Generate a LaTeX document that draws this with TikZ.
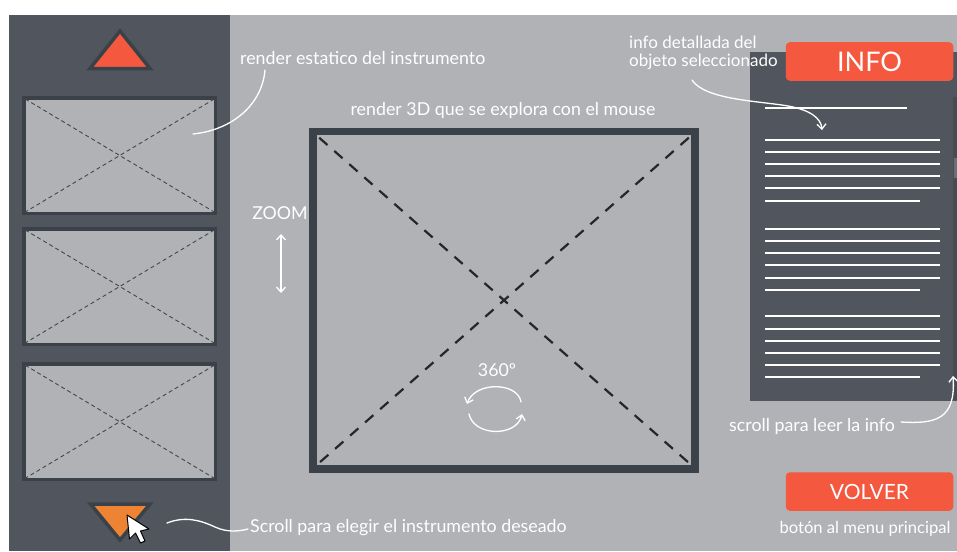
\documentclass[tikz,border=0pt]{standalone}
\usepackage{fontspec}
\setmainfont{Lato}
\usetikzlibrary{arrows.meta}
\definecolor{panel}{HTML}{51565E}
\definecolor{bg}{HTML}{B1B2B5}
\definecolor{frame}{HTML}{3B4148}
\definecolor{btnred}{HTML}{F4583E}
\definecolor{btnorange}{HTML}{EE8433}
\definecolor{thumbdash}{HTML}{42474E}
\definecolor{scrollbar}{HTML}{474C53}
\definecolor{scrollthumb}{HTML}{6B7078}
\begin{document}
\begin{tikzpicture}[x=1pt,y=-1pt,
  note/.style={text=white, font=\fontsize{17.8}{18}\selectfont, inner sep=0pt},
  noteline/.style={white, line width=1.3pt, line cap=round},
  tip/.style={-{Straight Barb[length=5pt,width=9pt]}},
  thumb/.style={draw=frame, fill=bg, line width=3.5pt, inner sep=0pt},
  thumbx/.style={thumbdash, line width=0.9pt, dash pattern=on 4pt off 3pt},
  bigx/.style={black!85, line width=2.2pt, dash pattern=on 11pt off 9pt},
  textline/.style={white, line width=2pt},
  btn/.style={fill=btnred, rounded corners=4pt, text=white, inner sep=0pt},
  tri/.style={draw=frame, line width=3.5pt, line join=miter}
]
\useasboundingbox (0,0) rectangle (957,551);
% backgrounds
\fill[white] (0,0) rectangle (957,551);
\fill[bg] (9,15) rectangle (957,551);
\fill[panel] (9,15) rectangle (230,551);

% up triangle
\draw[tri, fill=btnred] (120,31) -- (150,68.5) -- (90,68.5) -- cycle;
% thumbnails
\node[thumb, minimum width=191.5pt, minimum height=115.5pt] (t1) at (119.75,155.5) {};
\node[thumb, minimum width=191.5pt, minimum height=115.5pt] (t2) at (119.75,286.5) {};
\node[thumb, minimum width=191.5pt, minimum height=115.5pt] (t3) at (119.75,421.75) {};
\foreach \t in {t1,t2,t3}{
  \draw[thumbx] ([shift={(3,3)}]\t.north west) -- ([shift={(-3,-3)}]\t.south east);
  \draw[thumbx] ([shift={(-3,3)}]\t.north east) -- ([shift={(3,-3)}]\t.south west);
}
% down triangle + cursor
\draw[tri, fill=btnorange] (90.5,504) -- (150,504) -- (120,540) -- cycle;
\draw[black, fill=white, line width=1pt, line join=round]
  (127,515) -- (129.5,539) -- (135.5,533) -- (140.5,543) -- (145,541) -- (140.5,531) -- (149,529) -- cycle;

% main render box
\node[draw=frame, fill=bg, line width=7.5pt, minimum width=382pt, minimum height=337.5pt, inner sep=0pt] (main) at (504,300.25) {};
\draw[bigx] ([shift={(10,10)}]main.north west) -- ([shift={(-10,-10)}]main.south east);
\draw[bigx] ([shift={(-10,10)}]main.north east) -- ([shift={(10,-10)}]main.south west);

% right info panel
\node[fill=panel, minimum width=207pt, minimum height=349pt, inner sep=0pt, anchor=north west] (info) at (750,52) {};
\fill[scrollbar] (952.5,97) rectangle (957,400);
\fill[scrollthumb] (953.5,158) rectangle (957,178);
\draw[textline] (765,108) -- (907,108);
\foreach \y in {140,152,164,176,188,229,241,253,265,278,316,329,341,353,365}
  \draw[textline] (765,\y) -- (940,\y);
\foreach \y in {200.5,290,377}
  \draw[textline] (765,\y) -- (920,\y);

% buttons
\node[btn, minimum width=167.5pt, minimum height=38.5pt, font=\fontsize{27}{28}\selectfont] (infobtn) at (869.5,61.5) {INFO};
\node[btn, minimum width=167.5pt, minimum height=38.5pt, font=\fontsize{21}{22}\selectfont] (volver) at (869.5,491.5) {VOLVER};

% annotations
\node[note, anchor=west] (nstatic) at (240,58) {render estatico del instrumento};
\node[note] (n3d) at (503,110) {render 3D que se explora con el mouse};
\node[note] (nzoom) at (280,213) {ZOOM};
\node[note, align=left, anchor=west, font=\fontsize{17}{18}\selectfont] (ninfo) at (629,53) {info detallada del\\objeto seleccionado};
\node[note, anchor=west] (nscrollr) at (729,426) {scroll para leer la info};
\node[note, font=\fontsize{16.6}{18}\selectfont] (nvolver) at (865,529) {botón al menu principal};
\node[note, anchor=west] (nscrolll) at (250,528) {Scroll para elegir el instrumento deseado};
\node[note] (n360) at (497,370) {360º};

% connectors
\coordinate (s1) at (265,70);
\coordinate (s2) at (193,134);
\draw[noteline] (s1) .. controls (262,105) and (232,130) .. (s2);
\coordinate (i1) at (692,80);
\coordinate (i2) at (788,106);
\coordinate (i3) at (822,130);
\draw[noteline, tip] (i1) .. controls (705,100) and (760,101) .. (i2) .. controls (810,110) and (821,118) .. (i3);
\coordinate (r1) at (901,422);
\coordinate (r2) at (953,376);
\draw[noteline, tip] (r1) .. controls (935,424) and (956,420) .. (r2);
\coordinate (c1) at (167,523);
\coordinate (c2) at (215,527);
\coordinate (c3) at (248,529);
\draw[noteline] (c1) .. controls (185,516) and (200,520) .. (c2) .. controls (228,533) and (240,531) .. (c3);
\coordinate (z1) at (281,234);
\coordinate (z2) at (281,293);
\draw[noteline, {Straight Barb[length=5pt,width=9pt]}-{Straight Barb[length=5pt,width=9pt]}] (z1) -- (z2);
\coordinate (a1) at (521,402);
\coordinate (a2) at (467,404);
\coordinate (b1) at (469,414);
\coordinate (b2) at (522,414);
\draw[noteline, tip] (a1) .. controls (518,382) and (475,381) .. (a2);
\draw[noteline, tip] (b1) .. controls (474,437) and (517,437) .. (b2);
\end{tikzpicture}
\end{document}
